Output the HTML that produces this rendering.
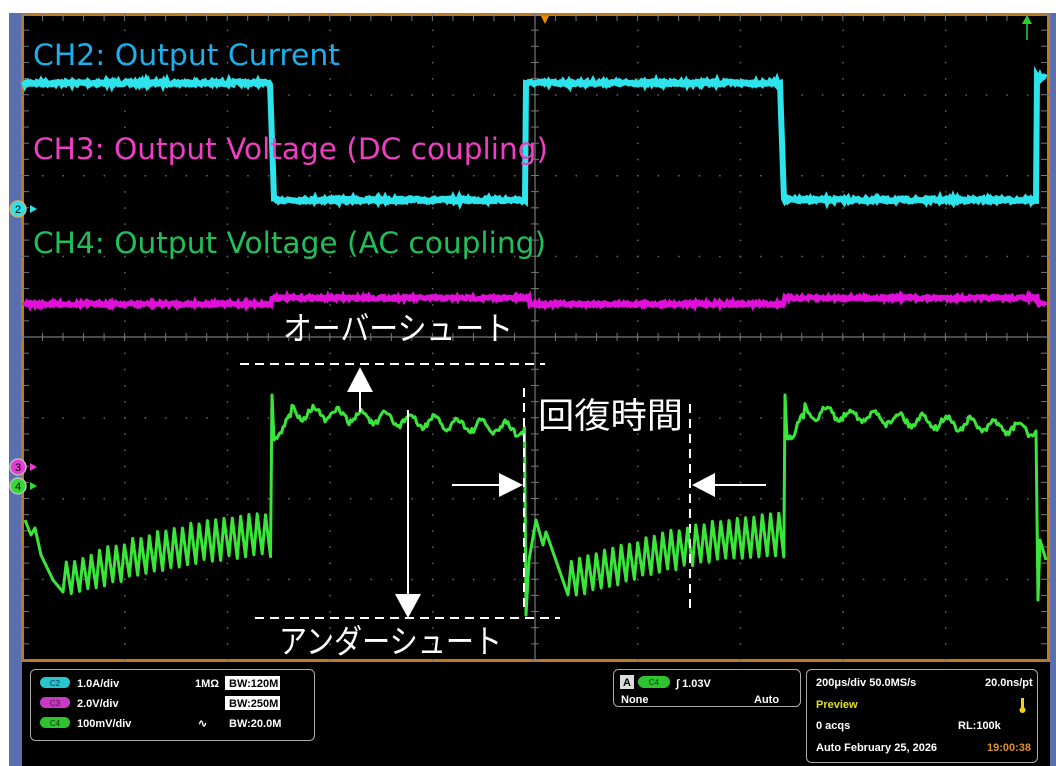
<!DOCTYPE html>
<html><head><meta charset="utf-8"><style>
html,body{margin:0;padding:0;background:#fff;width:1056px;height:766px;overflow:hidden}
svg{display:block}
.lb{font-family:"Liberation Sans",sans-serif;font-weight:bold;font-size:11px;fill:#fff}
.jp{font-family:"Liberation Sans","Noto Sans CJK JP",sans-serif;fill:#fff}
.ch{font-family:"DejaVu Sans","Liberation Sans",sans-serif;font-size:29px}
</style></head><body>
<svg id="s" width="1056" height="766" viewBox="0 0 1056 766" xmlns="http://www.w3.org/2000/svg">
<rect x="0" y="0" width="1056" height="766" fill="#fff"/>
<rect x="9" y="13" width="1047" height="753" fill="#5b6fae"/>
<rect x="22" y="13" width="1028" height="753" fill="#000"/>
<rect x="22.5" y="14.5" width="1026" height="646" fill="#000" stroke="#c07a1c" stroke-width="3"/>
<g id="grid"></g>
<g id="waves"></g>
<polygon points="541,16 549,16 545,24" fill="#f08a00"/>
<line x1="1027" y1="40" x2="1027" y2="22" stroke="#2ad12a" stroke-width="1.5"/>
<polygon points="1022,24 1032,24 1027,15" fill="#2ad12a"/>
<circle cx="18" cy="209" r="8" fill="#2fe0e8" stroke="#c9b36a" stroke-width="1.5"/><text x="18" y="213" font-size="11" text-anchor="middle" font-family="Liberation Sans">2</text><polygon points="30,205 37,209 30,213" fill="#2fe0e8"/>
<circle cx="18" cy="467" r="8" fill="#e83ad8" stroke="#bbb" stroke-width="1.5"/><text x="18" y="471" font-size="11" text-anchor="middle" font-family="Liberation Sans">3</text><polygon points="30,463 37,467 30,471" fill="#e83ad8"/>
<circle cx="18" cy="486" r="8" fill="#34d934" stroke="#bbb" stroke-width="1.5"/><text x="18" y="490" font-size="11" text-anchor="middle" font-family="Liberation Sans">4</text><polygon points="30,482 37,486 30,490" fill="#34d934"/>
<text class="ch" x="33" y="65" fill="#1ab0ec" textLength="307" lengthAdjust="spacingAndGlyphs">CH2: Output Current</text>
<text class="ch" x="33" y="159" fill="#ee3ec2" textLength="515" lengthAdjust="spacingAndGlyphs">CH3: Output Voltage (DC coupling)</text>
<text class="ch" x="33" y="253" fill="#1fbf5a" textLength="513" lengthAdjust="spacingAndGlyphs">CH4: Output Voltage (AC coupling)</text>
<g stroke="#fff" stroke-width="2" fill="none">
<line x1="240" y1="364" x2="545" y2="364" stroke-dasharray="9,6"/>
<line x1="255" y1="618" x2="560" y2="618" stroke-dasharray="9,6"/>
<line x1="524" y1="388" x2="524" y2="610" stroke-dasharray="9,6"/>
<line x1="690" y1="404" x2="690" y2="612" stroke-dasharray="9,6"/>
<line x1="360" y1="412" x2="360" y2="390"/>
<line x1="408" y1="410" x2="408" y2="596"/>
<line x1="452" y1="485" x2="502" y2="485"/>
<line x1="766" y1="485" x2="714" y2="485"/>
</g>
<g fill="#fff">
<polygon points="347,392 373,392 360,367"/>
<polygon points="395,594 421,594 408,618"/>
<polygon points="499,473 499,497 523,485"/>
<polygon points="715,473 715,497 692,485"/>
</g>
<text class="jp" x="283" y="340" font-size="33" textLength="230" lengthAdjust="spacingAndGlyphs">オーバーシュート</text>
<text class="jp" x="279" y="653" font-size="33" textLength="223" lengthAdjust="spacingAndGlyphs">アンダーシュート</text>
<text class="jp" x="538" y="428" font-size="35" textLength="145" lengthAdjust="spacingAndGlyphs">回復時間</text>
<rect x="30.5" y="669.5" width="284" height="71" rx="5" fill="#000" stroke="#aaa"/>
<rect x="40" y="677" width="30" height="11" rx="5.5" fill="#2ac4cc"/><text x="55" y="686" font-size="8" text-anchor="middle" font-family="Liberation Sans" fill="#134">C2</text>
<rect x="40" y="697" width="30" height="11" rx="5.5" fill="#c83ac6"/><text x="55" y="706" font-size="8" text-anchor="middle" font-family="Liberation Sans" fill="#413">C3</text>
<rect x="40" y="717" width="30" height="11" rx="5.5" fill="#2fc42f"/><text x="55" y="726" font-size="8" text-anchor="middle" font-family="Liberation Sans" fill="#131">C4</text>
<text class="lb" x="77" y="687">1.0A/div</text>
<text class="lb" x="77" y="707">2.0V/div</text>
<text class="lb" x="77" y="727">100mV/div</text>
<text class="lb" x="195" y="687">1MΩ</text>
<rect x="225" y="676" width="55" height="14" fill="#fff"/><text class="lb" x="229" y="687" style="fill:#000">BW:120M</text>
<rect x="225" y="696" width="55" height="14" fill="#fff"/><text class="lb" x="229" y="707" style="fill:#000">BW:250M</text>
<text class="lb" x="198" y="727">∿</text>
<text class="lb" x="229" y="727">BW:20.0M</text>
<rect x="613.5" y="669.5" width="187" height="37" rx="5" fill="#000" stroke="#aaa"/>
<rect x="620" y="675" width="14" height="14" fill="#ddd"/><text x="627" y="686" font-size="11" font-weight="bold" text-anchor="middle" font-family="Liberation Sans">A</text>
<rect x="638" y="676" width="32" height="12" rx="6" fill="#2fc42f"/><text x="654" y="685" font-size="8" text-anchor="middle" font-family="Liberation Sans" fill="#131">C4</text>
<text class="lb" x="676" y="687">∫ 1.03V</text>
<text class="lb" x="621" y="703">None</text>
<text class="lb" x="754" y="703">Auto</text>
<rect x="806.5" y="669.5" width="231" height="93" rx="5" fill="#000" stroke="#aaa"/>
<text class="lb" x="816" y="686">200μs/div  50.0MS/s</text>
<text class="lb" x="985" y="686">20.0ns/pt</text>
<text class="lb" x="816" y="708" style="fill:#e0e020">Preview</text>
<rect x="1021" y="698" width="3" height="10" fill="#f0d020"/><circle cx="1022.5" cy="710" r="3" fill="#f0d020"/>
<text class="lb" x="816" y="729">0 acqs</text>
<text class="lb" x="958" y="729">RL:100k</text>
<text class="lb" x="816" y="751">Auto    February 25, 2026</text>
<text class="lb" x="987" y="751" style="fill:#e09020">19:00:38</text>
</svg>
<script>
(function(){
var NS="http://www.w3.org/2000/svg";
function el(p,t,a){var e=document.createElementNS(NS,t);for(var k in a)e.setAttribute(k,a[k]);p.appendChild(e);return e;}
var g=document.getElementById("grid");
var x0=22,x1=1048,y0=14,y1=660,dx=(x1-x0)/10,dy=(y1-y0)/8;
for(var i=1;i<10;i++){var x=x0+i*dx;if(i==5)continue;for(var y=y0;y<y1;y+=dy/5)el(g,"rect",{x:x-0.5,y:y-0.5,width:1.5,height:1.5,fill:"#666"});}
for(var j=1;j<8;j++){var y=y0+j*dy;if(j==4)continue;for(var x=x0;x<x1;x+=dx/5)el(g,"rect",{x:x-0.5,y:y-0.5,width:1.5,height:1.5,fill:"#666"});}
var cx=x0+5*dx,cy=y0+4*dy;
el(g,"line",{x1:cx,y1:y0,x2:cx,y2:y1,stroke:"#777","stroke-width":1.2});
el(g,"line",{x1:x0,y1:cy,x2:x1,y2:cy,stroke:"#777","stroke-width":1.2});
for(var y=y0;y<y1;y+=dy/5){el(g,"line",{x1:cx-4,y1:y,x2:cx+4,y2:y,stroke:"#777"});el(g,"line",{x1:x0,y1:y,x2:x0+7,y2:y,stroke:"#777"});el(g,"line",{x1:x1-7,y1:y,x2:x1,y2:y,stroke:"#777"});}
for(var x=x0;x<x1;x+=dx/5){el(g,"line",{x1:x,y1:cy-4,x2:x,y2:cy+4,stroke:"#777"});el(g,"line",{x1:x,y1:y0,x2:x,y2:y0+7,stroke:"#777"});}
var w=document.getElementById("waves");
var seed=7;function r(){seed=(seed*16807)%2147483647;return seed/2147483647;}
function ch2(x){if(x<270)return 83;if(x<274)return 83+(x-270)*29;if(x<526)return 200;if(x<780)return 83;if(x<784)return 83+(x-780)*29;if(x<1037)return 200;return 78;}
var d="";for(var x=24;x<=1046;x+=1){d+=(x==24?"M":"L")+x+","+(ch2(x)+(r()-0.5)*3).toFixed(1);}
el(w,"path",{d:d,stroke:"#2ee4ec","stroke-width":6,fill:"none"});
d="";for(var x=24;x<=1046;x+=1){var b=(x<272||(x>=530&&x<785)||x>1037)?304:298;d+=(x==24?"M":"L")+x+","+(b+(r()-0.5)*3).toFixed(1);}
el(w,"path",{d:d,stroke:"#e010d8","stroke-width":5,fill:"none"});
function seg(xs,xe,first){var pts=[];
 if(first){pts.push([xs,520],[xs+6,535],[xs+10,528],[xs+16,555],[xs+28,580],[xs+38,592]);}
 else{pts.push([xs,615],[xs+3,560],[xs+10,520],[xs+17,545],[xs+20,532],[xs+42,595]);}
 var st=pts[pts.length-1][0],P=8.3;
 for(var x=st;x<xe-2;x+=P){var t=(x-st)/(xe-st);var lo=595-40*Math.sin(t*1.6)/Math.sin(1.6);var hi=lo-32-10*t;pts.push([x+P*0.4,hi+(r()-0.5)*4],[x+P,lo+(r()-0.5)*4]);}
 return pts;}
function hiSeg(xs,xe){var pts=[[xs,395]];for(var x=xs+2;x<xe;x+=1.5){var t=(x-xs)/(xe-xs);var base=410+20*t;if(x-xs<20)base=420+ (20-(x-xs))*0.8;var wig=6*Math.sin((x-xs)*2*Math.PI/24);pts.push([x,base+wig+(r()-0.5)*6]);}return pts;}
var all=[].concat(seg(25,272,true),hiSeg(272,526),seg(526,785,false),hiSeg(785,1037),[[1038,600],[1040,540],[1046,560]]);
d="";all.forEach(function(p,i){d+=(i?"L":"M")+p[0].toFixed(1)+","+p[1].toFixed(1);});
el(w,"path",{d:d,stroke:"#3ae63a","stroke-width":3,fill:"none","stroke-linejoin":"round"});
})();
</script>
</body></html>
